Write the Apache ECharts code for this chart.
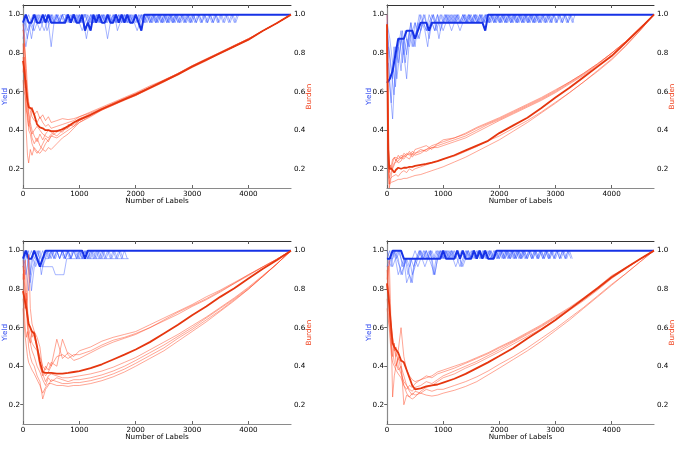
<!DOCTYPE html>
<html><head><meta charset="utf-8">
<script src="https://cdn.jsdelivr.net/npm/echarts@6/dist/echarts.min.js"></script>
<style>html,body{margin:0;padding:0;background:#fff}#c{width:685px;height:453px}</style>
</head><body><div id="c"></div>
<script>
// ---- shared sample positions (Number of Labels) ----
const RX = [0,20,40,60,80,100,130,160,200,250,300,350,400,450,500,600,700,800,900,1000,1200,1400,1600,1800,2000,2250,2500,2750,3000,3250,3500,3750,4000,4250,4500,4755];
const BX = [0,50,100,150,200,250,300,350,400,450,500,550,600,650,700,750,800,850,900,950,1000,1050,1100,1150,1200,1250,1300,1350,1400,1450,1500,1550,1600,1650,1700,1750,1800,1850,1900,1950,2000,2050,2100,2150,2200,2250,2300,2350,2400,2450,2500,2550,2600,2650,2700,2750,2800,2850,2900,2950,3000,3050,3100,3150,3200,3250,3300,3350,3400,3450,3500,3550,3600,3650,3700,3750,3800];
const BX2 = [25,75,125,175,225,275,325,375,425,475,525,575,625,675,725,775,825,875,925,975,1025,1075,1125,1175,1225,1275,1325,1375,1425,1475,1525,1575,1625,1675,1725,1775,1825,1875,1925,1975,2025,2075,2125,2175,2225,2275,2325,2375,2425,2475,2525,2575,2625,2675,2725,2775,2825,2875,2925,2975,3025,3075,3125,3175,3225,3275,3325,3375,3425,3475,3525,3575,3625,3675,3725,3775,3825];
const X_END = 4755;
const X_TICKS = [0,1000,2000,3000,4000];
const Y_TICKS = [0.2,0.4,0.6,0.8,1.0];
const YIELD_STEPS = 24; // yield deficits below are in units of 1/24

// ---- Panel 1 (top-left) ----
const tlBurdenMean = [0.76,0.72,0.66,0.60,0.55,0.52,0.51,0.51,0.48,0.43,0.415,0.41,0.40,0.40,0.395,0.395,0.405,0.42,0.44,0.455,0.48,0.51,0.535,0.56,0.585,0.62,0.655,0.69,0.73,0.765,0.80,0.835,0.87,0.915,0.955,1.0];
const tlBurden1 = [0.92,0.88,0.80,0.72,0.62,0.55,0.50,0.47,0.45,0.44,0.47,0.44,0.42,0.43,0.41,0.42,0.43,0.44,0.45,0.47,0.49,0.515,0.54,0.565,0.59,0.625,0.66,0.695,0.735,0.77,0.805,0.84,0.875,0.915,0.955,1.0];
const tlBurden2 = [0.85,0.75,0.55,0.38,0.27,0.23,0.30,0.27,0.31,0.29,0.28,0.30,0.29,0.31,0.30,0.33,0.36,0.38,0.41,0.44,0.47,0.505,0.53,0.56,0.585,0.62,0.655,0.69,0.73,0.765,0.80,0.835,0.87,0.915,0.955,1.0];
const tlBurden3 = [0.80,0.85,0.78,0.65,0.55,0.48,0.42,0.36,0.33,0.36,0.32,0.30,0.33,0.35,0.37,0.36,0.38,0.40,0.42,0.44,0.475,0.505,0.53,0.555,0.58,0.615,0.65,0.69,0.725,0.76,0.80,0.835,0.87,0.915,0.955,1.0];
const tlBurden4 = [0.70,0.78,0.70,0.52,0.45,0.42,0.46,0.52,0.48,0.50,0.46,0.48,0.45,0.47,0.44,0.45,0.46,0.455,0.46,0.47,0.495,0.52,0.545,0.57,0.595,0.63,0.66,0.695,0.735,0.77,0.805,0.84,0.875,0.915,0.955,1.0];
const tlBurden5 = [0.95,0.90,0.72,0.60,0.50,0.40,0.38,0.33,0.30,0.28,0.30,0.33,0.36,0.34,0.37,0.39,0.41,0.42,0.43,0.45,0.48,0.505,0.535,0.56,0.585,0.62,0.655,0.69,0.73,0.765,0.80,0.835,0.87,0.915,0.955,1.0];
const tlBurden6 = [0.78,0.70,0.62,0.66,0.58,0.50,0.44,0.40,0.37,0.34,0.38,0.35,0.38,0.40,0.39,0.37,0.40,0.41,0.44,0.46,0.485,0.51,0.54,0.565,0.59,0.62,0.66,0.695,0.73,0.765,0.80,0.835,0.87,0.915,0.955,1.0];
const tlBurden7 = [0.66,0.60,0.58,0.50,0.48,0.44,0.40,0.38,0.40,0.42,0.40,0.38,0.37,0.36,0.38,0.40,0.39,0.43,0.42,0.45,0.48,0.51,0.535,0.56,0.58,0.62,0.655,0.69,0.73,0.765,0.80,0.84,0.875,0.915,0.955,1.0];
const tlYieldMean = [1,0,1,1,0,1,1,0,1,0,1,1,1,1,1,1,0,1,0,1,1,0,2,1,2,0,1,0,1,1,0,1,1,0,1,0,1,0,1,1,0,1,2,0];
const tlYield1 = [3,1,0,1,2,1,0,1,0,1,4,1,0,1,0,1,0,1,0,1,0,1,0,1,0,1,0,1,0,1,3,1,0,1,0,1,0,1,0,1,0,1,0,1,0,1,0,1,0,1,0,1,0,1,0,1,0,1,0,1,0,1,0,1,0,1,0,1,0,1,0,1,0,1,0,1,0];
const tlYield2 = [1,3,1,2,0,1,1,0,2,1,0,1,0,1,1,0,1,0,1,0,1,0,0,1,0,1,0,1,0,1,0,1,0,2,1,0,1,0,1,0,1,0,1,0,0,1,0,1,0,1,0,1,0,1,0,1,0,1,0,1,0,1,0,1,0,1,0,1,0,1];
const tlYield3 = [2,0,1,3,1,0,1,1,0,1,0,1,0,1,0,0,1,0,1,0,1,2,1,0,1,0,1,0,1,0,1,0,1,0,1,0,1,0,1,0,1,0,2,0,1,0,1,0,1,0,1,0,1,0,1,0,1,0,1,0,1,0];
const tlYield4 = [0,2,1,0,1,0,1,2,1,0,1,0,1,0,1,0,1,0,0,1,0,1,3,1,0,1,0,1,0,1,0,1,0,1,0,1,0,1,0,1,2,1,0,1,0,1,0,1,0,1,0,1,0,1,0,1,0,1,0,1,0,1,0,1,0,1,0,1,0,1,0,1,0,1,0,1,0];
const tlYield5 = [1,4,2,1,0,1,2,1,0,1,0,1,0,1,0,1,0,1,0,1,0,1,0,1,0,1,0,1,0,1,0,1,0,1,0,1,0,1,0,1,0,1,0,1,0,1,0,1,0,1,0,1,0,1,0,1];

// ---- Panel 2 (top-right) ----
const trBurdenMean = [0.95,0.30,0.20,0.20,0.20,0.19,0.18,0.195,0.205,0.20,0.205,0.205,0.21,0.21,0.215,0.22,0.225,0.232,0.24,0.25,0.27,0.295,0.32,0.345,0.385,0.425,0.465,0.515,0.57,0.62,0.675,0.73,0.785,0.855,0.925,1.0];
const trBurden1 = [1.0,0.55,0.22,0.20,0.22,0.25,0.24,0.26,0.25,0.27,0.26,0.28,0.27,0.29,0.28,0.30,0.29,0.31,0.32,0.33,0.35,0.37,0.40,0.43,0.455,0.49,0.525,0.56,0.60,0.645,0.69,0.74,0.80,0.86,0.93,1.0];
const trBurden2 = [0.95,0.45,0.18,0.22,0.20,0.23,0.26,0.24,0.27,0.25,0.28,0.27,0.29,0.27,0.30,0.31,0.32,0.30,0.33,0.34,0.36,0.38,0.41,0.435,0.46,0.495,0.53,0.565,0.605,0.65,0.695,0.745,0.80,0.86,0.93,1.0];
const trBurden3 = [0.90,0.35,0.15,0.17,0.19,0.21,0.23,0.22,0.24,0.26,0.25,0.27,0.28,0.26,0.28,0.29,0.30,0.31,0.31,0.32,0.34,0.36,0.39,0.42,0.45,0.485,0.52,0.555,0.595,0.64,0.685,0.735,0.79,0.855,0.925,1.0];
const trBurden4 = [0.85,0.40,0.10,0.13,0.17,0.20,0.22,0.25,0.23,0.24,0.27,0.26,0.25,0.28,0.27,0.28,0.30,0.32,0.33,0.35,0.36,0.385,0.415,0.44,0.465,0.50,0.535,0.57,0.61,0.65,0.695,0.745,0.80,0.86,0.93,1.0];
const trBurden5 = [0.92,0.25,0.12,0.15,0.14,0.16,0.15,0.17,0.16,0.18,0.19,0.18,0.20,0.19,0.20,0.21,0.22,0.23,0.24,0.25,0.265,0.29,0.315,0.345,0.37,0.41,0.45,0.495,0.545,0.595,0.65,0.705,0.765,0.835,0.915,1.0];
const trBurden6 = [0.90,0.20,0.12,0.11,0.13,0.14,0.135,0.14,0.145,0.145,0.15,0.15,0.155,0.16,0.165,0.17,0.18,0.19,0.20,0.21,0.235,0.26,0.29,0.32,0.35,0.395,0.44,0.49,0.54,0.595,0.65,0.71,0.77,0.84,0.915,1.0];
const trYieldMean = [8.5,8,7,5,3,3,3,2,2,2,3,2,1,1,1,2,1,1,1,1,1,1,1,1,1,1,1,1,1,1,1,1,1,1,1,2,0];
const trYield1 = [0,9,13,6,4,7,3,5,2,4,1,3,2,1,2,0,1,2,1,0,1,0,1,2,1,0,1,0,1,0,1,0,1,0,1,0,1,0,1,0,1,0,1,0,1,0,1,0,1,0,1,0,1,0,1,0,1,0,1,0,1,0,1,0,1,0,1,0];
const trYield2 = [6,11,4,8,5,2,6,3,1,4,2,3,1,0,2,1,0,1,3,1,0,1,0,1,0,1,1,0,1,0,1,0,1,0,1,0,1,0,1,0,1,0,1,0,1,0,1,0,1,0,1,0,1,0,1,0,1,0,1,0,1,0,1,0,1,0];
const trYield3 = [2,5,8,4,6,3,5,8,3,2,4,1,2,0,1,3,1,2,0,1,2,1,0,1,0,1,2,1,0,1,0,1,0,1,0,1,0,1,0,1,0,1,0,1,0,1,0,1,0,1,0,1,0,1,0,1,0,1,0,1];
const trYield4 = [4,7,10,5,3,6,2,4,1,3,2,0,1,2,4,1,0,2,1,0,1,0,1,0,1,0,1,0,1,0,1,0,1,0,1,0,1,0,1,0,1,0,1,0,1,0,1,0,1,0,1,0,1,0,1,0,1,0,1,0,1,0,1,0,1,0,1];
const trYield5 = [1,3,6,9,4,2,5,3,4,2,1,2,0,1,2,1,0,1,0,2,1,0,1,0,1,0,1,0,1,0,1,0,1,0,1,0,1,0,1,0,1,0,1,0,1,0,1,0,1,0,1,0,1,0,1];

// ---- Panel 3 (bottom-left) ----
const blBurdenMean = [0.79,0.76,0.73,0.70,0.66,0.62,0.60,0.58,0.57,0.50,0.42,0.37,0.365,0.365,0.365,0.362,0.362,0.365,0.37,0.375,0.39,0.41,0.435,0.46,0.487,0.525,0.57,0.615,0.665,0.71,0.76,0.805,0.855,0.905,0.95,1.0];
const blBurden1 = [0.92,0.85,0.95,0.80,0.70,0.62,0.60,0.55,0.58,0.50,0.45,0.40,0.38,0.42,0.40,0.45,0.46,0.44,0.46,0.46,0.48,0.51,0.535,0.55,0.57,0.60,0.635,0.67,0.71,0.745,0.785,0.83,0.875,0.915,0.955,1.0];
const blBurden2 = [0.85,0.90,0.80,0.72,0.75,0.98,0.70,0.62,0.58,0.55,0.50,0.38,0.35,0.37,0.40,0.54,0.44,0.47,0.45,0.48,0.50,0.53,0.55,0.565,0.58,0.615,0.65,0.685,0.72,0.76,0.795,0.835,0.875,0.915,0.955,1.0];
const blBurden3 = [0.80,0.75,0.70,0.78,0.65,0.60,0.55,0.52,0.50,0.48,0.40,0.35,0.40,0.38,0.42,0.40,0.54,0.46,0.43,0.44,0.47,0.50,0.525,0.545,0.565,0.60,0.64,0.68,0.715,0.75,0.79,0.83,0.87,0.915,0.955,1.0];
const blBurden4 = [0.70,0.62,0.55,0.50,0.45,0.42,0.40,0.38,0.36,0.33,0.30,0.26,0.29,0.31,0.31,0.30,0.30,0.295,0.30,0.30,0.31,0.325,0.345,0.37,0.40,0.44,0.48,0.53,0.58,0.63,0.685,0.74,0.80,0.865,0.93,1.0];
const blBurden5 = [0.75,0.70,0.60,0.55,0.58,0.50,0.45,0.42,0.40,0.35,0.32,0.23,0.28,0.30,0.33,0.32,0.31,0.31,0.315,0.315,0.325,0.34,0.36,0.385,0.415,0.455,0.495,0.545,0.59,0.64,0.69,0.745,0.80,0.865,0.93,1.0];
const blBurden6 = [0.88,0.80,0.70,0.75,0.62,0.55,0.52,0.48,0.45,0.40,0.37,0.33,0.30,0.34,0.32,0.34,0.33,0.32,0.33,0.33,0.34,0.355,0.375,0.40,0.43,0.47,0.51,0.555,0.60,0.65,0.70,0.75,0.805,0.865,0.93,1.0];
const blBurden7 = [0.95,0.85,0.78,0.70,0.60,0.56,0.52,0.58,0.55,0.50,0.42,0.36,0.32,0.35,0.36,0.35,0.34,0.34,0.345,0.35,0.36,0.375,0.395,0.42,0.445,0.485,0.525,0.565,0.61,0.655,0.705,0.755,0.81,0.87,0.93,1.0];
const blYieldMean = [1,0,1,1,0,1,2,1,0,0,0,0,0,0,0,0,0,0,0,0,0,0,1,0];
const blYield1 = [0,2,5,1,0,1,2,1,0,1,0,1,0,1,0,1,0,1,0,1,0,1,0,1,0,1,0,1,0,1,0,1,0,1,0,1,0,1];
const blYield2 = [1,0,3,1,2,1,2,2,2,2,2,3,3,3,3,1,1,1,1,1,1,1,1,1,1,1,1,1,1,1,1,1,1,1,1,1,1,1];
const blYield3 = [2,1,0,5,2,1,0,2,1,0,1,0,0,1,0,1,0,1,0,0,1,0,1,0,1,0,1,0,1,0];
const blYield4 = [0,1,4,2,1,0,3,1,0,1,0,1,0,0,1,0,1,0,0,1,0,1,0,1,0,1,0,1,0,1,0,1,0,1,0,1];
const blYield5 = [1,3,1,0,1,0,1,0,1,1,0,1,0,1,0,1,0,1,0,1,0,1,0,1,0];

// ---- Panel 4 (bottom-right) ----
const brBurdenMean = [0.83,0.78,0.72,0.65,0.58,0.52,0.50,0.50,0.47,0.43,0.42,0.38,0.34,0.30,0.28,0.285,0.295,0.30,0.305,0.315,0.335,0.36,0.39,0.42,0.453,0.495,0.544,0.59,0.64,0.695,0.75,0.805,0.862,0.91,0.955,1.0];
const brBurden1 = [0.85,0.92,0.80,0.65,0.60,0.55,0.50,0.45,0.48,0.60,0.45,0.38,0.35,0.33,0.32,0.33,0.34,0.35,0.37,0.38,0.40,0.42,0.445,0.47,0.50,0.535,0.575,0.615,0.66,0.705,0.755,0.81,0.87,0.91,0.955,1.0];
const brBurden2 = [0.80,0.88,0.95,0.75,0.50,0.24,0.35,0.40,0.45,0.38,0.30,0.28,0.30,0.29,0.31,0.33,0.35,0.34,0.36,0.37,0.39,0.415,0.44,0.465,0.495,0.53,0.57,0.61,0.655,0.70,0.75,0.805,0.865,0.91,0.955,1.0];
const brBurden3 = [0.75,0.70,0.62,0.58,0.52,0.48,0.42,0.40,0.44,0.42,0.20,0.25,0.24,0.26,0.25,0.26,0.25,0.245,0.25,0.26,0.275,0.295,0.32,0.355,0.39,0.435,0.48,0.53,0.585,0.64,0.70,0.76,0.82,0.88,0.94,1.0];
const brBurden4 = [0.90,0.82,0.70,0.60,0.55,0.52,0.48,0.50,0.40,0.36,0.32,0.30,0.27,0.25,0.27,0.26,0.28,0.27,0.28,0.28,0.30,0.32,0.345,0.375,0.41,0.45,0.495,0.545,0.595,0.65,0.705,0.765,0.825,0.88,0.94,1.0];
const brBurden5 = [0.82,0.78,0.72,0.55,0.48,0.45,0.52,0.42,0.38,0.40,0.35,0.30,0.28,0.27,0.29,0.30,0.32,0.31,0.33,0.35,0.375,0.40,0.425,0.455,0.485,0.525,0.565,0.605,0.65,0.695,0.745,0.80,0.86,0.905,0.955,1.0];
const brBurden6 = [0.70,0.65,0.60,0.52,0.45,0.42,0.40,0.38,0.36,0.34,0.30,0.26,0.24,0.23,0.24,0.27,0.29,0.30,0.32,0.34,0.36,0.39,0.415,0.445,0.475,0.515,0.555,0.595,0.64,0.69,0.74,0.795,0.855,0.905,0.955,1.0];
const brYieldMean = [1,1,0,0,0,0,1,1,1,1,1,1,1,1,1,1,1,1,1,1,0,1,1,1,1,0,1,0,1,1,1,0,1,0,1,0,1,1,1,0];
const brYield1 = [1,0,2,1,3,2,1,4,3,4,1,2,1,0,1,0,1,3,1,0,1,0,1,0,1,0,1,0,1,0,1,0,1,0,1,0,1,0,1,0,1,0,1,0,1,0,1,0,1,0,1,0,1,0,1,0,1,0,1,0,1,0,1,0,1,0,1];
const brYield2 = [2,1,0,1,2,3,1,2,4,2,1,0,1,2,1,0,3,1,0,1,0,1,0,1,2,1,0,1,0,1,0,1,0,1,0,1,0,1,0,1,0,1,0,1,0,1,0,1,0,1,0,1,0,1,0,1,0,1,0,1,0,1,0,1,0];
const brYield3 = [0,1,1,0,1,3,2,1,2,1,0,1,0,1,0,1,2,3,1,0,1,0,1,0,1,0,1,2,1,0,1,0,1,0,1,0,1,0,1,0,1,0,1,0,1,0,1,0,1,0,1,0,1,0,1,0,1,0,1,0];
const brYield4 = [1,2,0,1,0,2,1,3,1,2,1,0,1,0,1,0,1,0,1,0,1,0,1,0,1,0,2,1,0,1,0,1,0,1,0,1,0,1,0,1,0,1,0,1,0,1,0,1,0,1,0,1,0,1,0,1,0,1,0,1,0,1,0,1,0,1];
const brYield5 = [2,1,0,1,0,1,2,1,1,3,2,1,0,1,0,1,0,1,0,1,0,1,0,1,0,1,2,1,0,1,0,1,0,1,0,1,0,1,0,1,0,1,0,1,0,1,0,1,0,1];

// ---- assemble ----
const panels = [
  {burdenMean: tlBurdenMean, burden: [tlBurden1,tlBurden2,tlBurden3,tlBurden4,tlBurden5,tlBurden6,tlBurden7],
   yieldMean: tlYieldMean, yields: [[BX,tlYield1],[BX2,tlYield2],[BX,tlYield3],[BX2,tlYield4],[BX,tlYield5]]},
  {burdenMean: trBurdenMean, burden: [trBurden1,trBurden2,trBurden3,trBurden4,trBurden5,trBurden6],
   yieldMean: trYieldMean, yields: [[BX,trYield1],[BX2,trYield2],[BX,trYield3],[BX2,trYield4],[BX,trYield5]]},
  {burdenMean: blBurdenMean, burden: [blBurden1,blBurden2,blBurden3,blBurden4,blBurden5,blBurden6,blBurden7],
   yieldMean: blYieldMean, yields: [[BX,blYield1],[BX2,blYield2],[BX,blYield3],[BX2,blYield4],[BX,blYield5]]},
  {burdenMean: brBurdenMean, burden: [brBurden1,brBurden2,brBurden3,brBurden4,brBurden5,brBurden6],
   yieldMean: brYieldMean, yields: [[BX,brYield1],[BX2,brYield2],[BX,brYield3],[BX2,brYield4],[BX,brYield5]]}
];

function zipXY(xs, ys){const n=Math.min(xs.length,ys.length);const o=[];for(let i=0;i<n;i++)o.push([xs[i],ys[i]]);return o;}
function zipYield(xs, d){const n=Math.min(xs.length,d.length);const o=[];for(let i=0;i<n;i++)o.push([xs[i],1-d[i]/YIELD_STEPS]);return o;}

const FONT = 'DejaVu Sans';
const grids = [
  {left:23, top:5, width:268, height:183},
  {left:387, top:5, width:267, height:183},
  {left:23, top:241, width:268, height:183},
  {left:387, top:241, width:267, height:183}
];
const xAxes = [], yAxes = [], series = [];
grids.forEach((g, gi) => {
  xAxes.push({type:'value', gridIndex:gi, position:'bottom', min:0, max:X_END,
    name:'Number of Labels', nameLocation:'middle', nameGap:10, nameMoveOverlap:false,
    nameTextStyle:{fontFamily:FONT, fontSize:7.2, color:'#000'},
    axisLine:{show:true, lineStyle:{color:'#8a8a8a', width:1.2}},
    axisTick:{show:true, inside:true, length:3, customValues:X_TICKS, lineStyle:{color:'#666'}},
    axisLabel:{show:true, customValues:X_TICKS, margin:3, fontFamily:FONT, fontSize:7.2, color:'#000',
      formatter:v=>String(v)},
    splitLine:{show:false}});
  xAxes.push({type:'value', gridIndex:gi, position:'top', min:0, max:X_END,
    axisLine:{show:true, lineStyle:{color:'#333', width:1}},
    axisTick:{show:true, inside:true, length:3, customValues:X_TICKS, lineStyle:{color:'#555'}},
    axisLabel:{show:false}, splitLine:{show:false}});
  yAxes.push({type:'value', gridIndex:gi, position:'left', min:0.1, max:1.05,
    name:'Yield', nameLocation:'middle', nameGap:14, nameRotate:90, nameMoveOverlap:false,
    nameTextStyle:{fontFamily:FONT, fontSize:7.2, color:'#2a45f0'},
    axisLine:{show:true, lineStyle:{color:'#333', width:1}},
    axisTick:{show:true, inside:false, length:2.5, customValues:Y_TICKS, lineStyle:{color:'#444'}},
    axisLabel:{show:true, customValues:Y_TICKS, margin:3, fontFamily:FONT, fontSize:7.2, color:'#000',
      formatter:v=>v.toFixed(1)},
    splitLine:{show:false}});
  yAxes.push({type:'value', gridIndex:gi, position:'right', min:0.1, max:1.05,
    name:'Burden', nameLocation:'middle', nameGap:15, nameRotate:90, nameMoveOverlap:false,
    nameTextStyle:{fontFamily:FONT, fontSize:7.2, color:'#f0401c'},
    axisLine:{show:true, lineStyle:{color:'#8a8a8a', width:1.2}},
    axisTick:{show:true, inside:true, length:2.5, customValues:Y_TICKS, lineStyle:{color:'#666'}},
    axisLabel:{show:true, customValues:Y_TICKS, margin:3, fontFamily:FONT, fontSize:7.2, color:'#000',
      formatter:v=>v.toFixed(1)},
    splitLine:{show:false}});
});

panels.forEach((p, gi) => {
  const xi = gi*2, yl = gi*2, yr = gi*2+1;
  p.yields.forEach(([xs, d]) => {
    series.push({type:'line', xAxisIndex:xi, yAxisIndex:yl, data:zipYield(xs,d), symbol:'none', silent:true, z:2,
      lineStyle:{color:'#3a5cff', width:0.9, opacity:0.5}});
  });
  const ym = zipYield(BX, p.yieldMean); ym.push([X_END, 1]);
  series.push({type:'line', xAxisIndex:xi, yAxisIndex:yl, data:ym, symbol:'none', silent:true, z:3,
    lineStyle:{color:'#1632e6', width:2}});
  p.burden.forEach(b => {
    series.push({type:'line', xAxisIndex:xi, yAxisIndex:yr, data:zipXY(RX,b), symbol:'none', silent:true, z:4,
      lineStyle:{color:'#ff4a26', width:0.9, opacity:0.55}});
  });
  series.push({type:'line', xAxisIndex:xi, yAxisIndex:yr, data:zipXY(RX,p.burdenMean), symbol:'none', silent:true, z:5,
    lineStyle:{color:'#e5360f', width:1.8}});
});

const chart = echarts.init(document.getElementById('c'), null, {renderer:'canvas'});
chart.setOption({animation:false, backgroundColor:'#fff', grid:grids, xAxis:xAxes, yAxis:yAxes, series:series});
</script></body></html>
